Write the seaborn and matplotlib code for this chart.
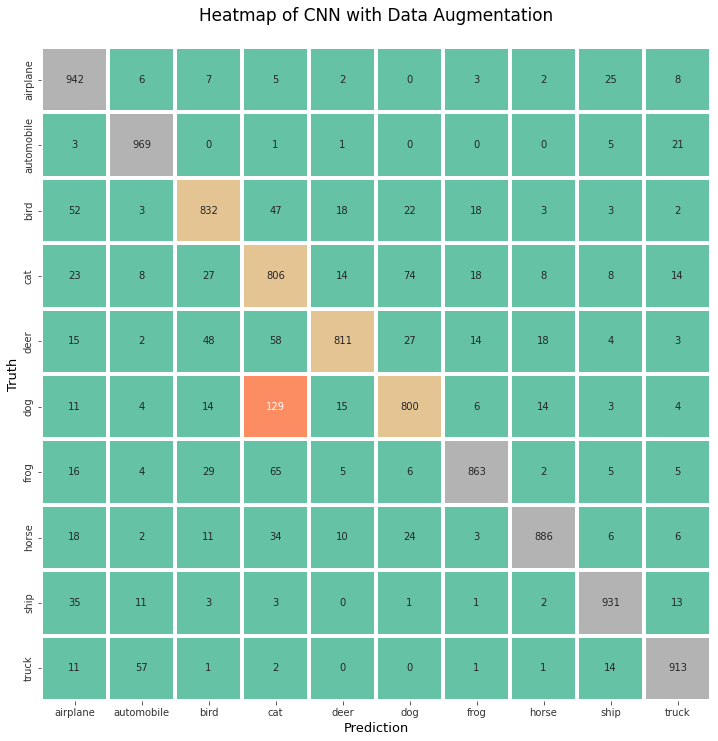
import numpy as np
import matplotlib
matplotlib.use("Agg")
import matplotlib.pyplot as plt
import seaborn as sns

classes = ["airplane", "automobile", "bird", "cat", "deer",
           "dog", "frog", "horse", "ship", "truck"]

# confusion matrix (rows = truth, cols = prediction)
cm = np.array([
    [942, 6, 7, 5, 2, 0, 3, 2, 25, 8],
    [3, 969, 0, 1, 1, 0, 0, 0, 5, 21],
    [52, 3, 832, 47, 18, 22, 18, 3, 3, 2],
    [23, 8, 27, 806, 14, 74, 18, 8, 8, 14],
    [15, 2, 48, 58, 811, 27, 14, 18, 4, 3],
    [11, 4, 14, 129, 15, 800, 6, 14, 3, 4],
    [16, 4, 29, 65, 5, 6, 863, 2, 5, 5],
    [18, 2, 11, 34, 10, 24, 3, 886, 6, 6],
    [35, 11, 3, 3, 0, 1, 1, 2, 931, 13],
    [11, 57, 1, 2, 0, 0, 1, 1, 14, 913],
])

fig, ax = plt.subplots(figsize=(718 / 72, 741 / 72), dpi=72)
fig.subplots_adjust(left=41 / 718, right=711 / 718, top=1 - 47 / 741, bottom=1 - 701 / 741)

sns.heatmap(cm, annot=True, fmt="d", cmap="Set2", cbar=False,
            linewidths=4, linecolor="white",
            xticklabels=classes, yticklabels=classes, ax=ax)

ax.set_title("Heatmap of CNN with Data Augmentation", fontsize=17, pad=26)
ax.set_xlabel("Prediction", fontsize=13)
ax.set_ylabel("Truth", fontsize=13)
ax.tick_params(colors="#333333", labelsize=10)
plt.setp(ax.get_yticklabels(), rotation=90, va="center")

fig.savefig("out.png", dpi=72)
